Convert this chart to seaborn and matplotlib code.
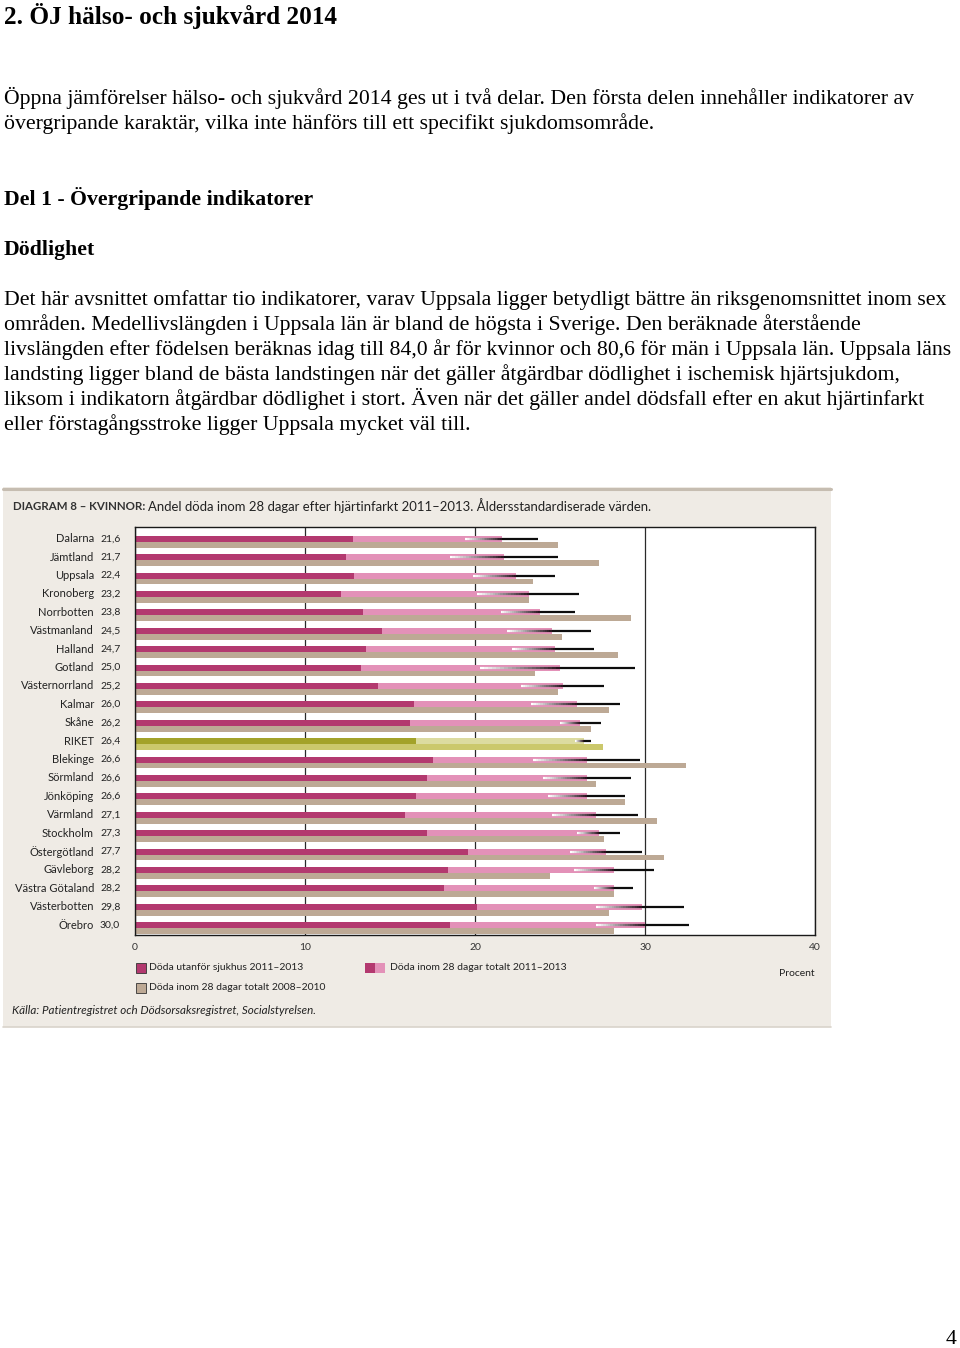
"""Diagram 8 - kvinnor: andel döda inom 28 dagar efter hjärtinfarkt."""
import numpy as np
import pandas as pd
import matplotlib
matplotlib.use('Agg')
import matplotlib.pyplot as plt
import matplotlib.transforms as mtransforms
from matplotlib.patches import Rectangle
from matplotlib.lines import Line2D
from matplotlib.collections import LineCollection
import seaborn as sns

# ----------------------------------------------------------------------------
# data
# ----------------------------------------------------------------------------
regions = ['Dalarna', 'Jämtland', 'Uppsala', 'Kronoberg', 'Norrbotten',
           'Västmanland', 'Halland', 'Gotland', 'Västernorrland', 'Kalmar',
           'Skåne', 'RIKET', 'Blekinge', 'Sörmland', 'Jönköping', 'Värmland',
           'Stockholm', 'Östergötland', 'Gävleborg', 'Västra Götaland',
           'Västerbotten', 'Örebro']
total_1113 = [21.6, 21.7, 22.4, 23.2, 23.8, 24.5, 24.7, 25.0, 25.2, 26.0, 26.2,
              26.4, 26.6, 26.6, 26.6, 27.1, 27.3, 27.7, 28.2, 28.2, 29.8, 30.0]
outside_1113 = [12.8, 12.4, 12.9, 12.1, 13.4, 14.5, 13.6, 13.3, 14.3, 16.4, 16.2,
                16.5, 17.5, 17.2, 16.5, 15.9, 17.2, 19.6, 18.4, 18.2, 20.1, 18.5]
total_0810 = [24.9, 27.3, 23.4, 23.2, 29.2, 25.1, 28.4, 23.5, 24.9, 27.9, 26.8,
              27.5, 32.4, 27.1, 28.8, 30.7, 27.6, 31.1, 24.4, 28.2, 27.9, 28.2]
ci_low = [19.4, 18.5, 19.9, 20.1, 21.5, 21.9, 22.2, 20.3, 22.7, 23.3, 25.0,
          25.9, 23.4, 24.0, 24.3, 24.5, 26.0, 25.6, 25.8, 27.0, 27.1, 27.1]
ci_high = [23.7, 24.9, 24.7, 26.1, 25.9, 26.8, 27.0, 29.4, 27.6, 28.5, 27.4,
           26.8, 29.7, 29.2, 28.8, 29.6, 28.5, 29.8, 30.5, 29.3, 32.3, 32.6]
x_ticks = [0, 10, 20, 30, 40]

period_new = 'Döda inom 28 dagar totalt 2011–2013'
period_old = 'Döda inom 28 dagar totalt 2008–2010'
label_outside = 'Döda utanför sjukhus 2011–2013'

# colours
MAGENTA = '#b3396f'
PINK = '#e391b8'
TAN = '#bda995'
OLIVE_DARK = '#a3a229'
OLIVE_LIGHT = '#dcdba0'
OLIVE_LOW = '#cbc86c'
PANEL = '#efebe5'

sns.set_theme(style='white')
plt.rcParams['font.family'] = ['Lato', 'DejaVu Sans']
SERIF = ['Liberation Serif', 'DejaVu Serif']
BODY = 15.7

W, H = 960, 1348
fig = plt.figure(figsize=(W / 100, H / 100), dpi=100)
fig.patch.set_facecolor('white')


def fx(px):
    return px / W


def fy(py):
    return 1 - py / H


# ----------------------------------------------------------------------------
# page text
# ----------------------------------------------------------------------------
fig.text(fx(4), fy(24), '2. ÖJ hälso- och sjukvård 2014', family=SERIF,
         weight='bold', size=18.2, va='baseline', color='black')

intro = ['Öppna jämförelser hälso- och sjukvård 2014 ges ut i två delar. Den första delen innehåller indikatorer av',
         'övergripande karaktär, vilka inte hänförs till ett specifikt sjukdomsområde.']
for k, line in enumerate(intro):
    fig.text(fx(4), fy(104 + 25 * k), line, family=SERIF, size=BODY,
             va='baseline', color='black')

fig.text(fx(4), fy(205), 'Del 1 - Övergripande indikatorer', family=SERIF,
         weight='bold', size=BODY, va='baseline', color='black')
fig.text(fx(4), fy(255), 'Dödlighet', family=SERIF, weight='bold', size=BODY,
         va='baseline', color='black')

para = ['Det här avsnittet omfattar tio indikatorer, varav Uppsala ligger betydligt bättre än riksgenomsnittet inom sex',
        'områden. Medellivslängden i Uppsala län är bland de högsta i Sverige. Den beräknade återstående',
        'livslängden efter födelsen beräknas idag till 84,0 år för kvinnor och 80,6 för män i Uppsala län. Uppsala läns',
        'landsting ligger bland de bästa landstingen när det gäller åtgärdbar dödlighet i ischemisk hjärtsjukdom,',
        'liksom i indikatorn åtgärdbar dödlighet i stort. Även när det gäller andel dödsfall efter en akut hjärtinfarkt',
        'eller förstagångsstroke ligger Uppsala mycket väl till.']
for k, line in enumerate(para):
    fig.text(fx(4), fy(305 + 25 * k), line, family=SERIF, size=BODY,
             va='baseline', color='black')

fig.text(fx(957), fy(1344), '4', family=SERIF, size=BODY, va='baseline',
         ha='right', color='black')

# ----------------------------------------------------------------------------
# chart panel
# ----------------------------------------------------------------------------
fig.patches.append(Rectangle((fx(3), fy(1027)), 828 / W, 540 / H,
                             transform=fig.transFigure, facecolor=PANEL,
                             edgecolor='none', zorder=-2))
fig.lines.append(Line2D([fx(3), fx(831)], [fy(488.5), fy(488.5)],
                        transform=fig.transFigure, color='#c6bdb1', lw=2.2,
                        zorder=-1))
fig.lines.append(Line2D([fx(3), fx(831)], [fy(1026.5), fy(1026.5)],
                        transform=fig.transFigure, color='#d9d3cb', lw=1.2,
                        zorder=-1))

ax = fig.add_axes([fx(135), fy(935), 680 / W, 408 / H])
ax.set_facecolor('white')
ax.set_zorder(1)

long = pd.DataFrame({'region': regions * 2,
                     'value': total_1113 + total_0810,
                     'period': [period_new] * len(regions) + [period_old] * len(regions)})
outside = pd.DataFrame({'region': regions, 'value': outside_1113,
                        'period': [period_new] * len(regions)})
hue_order = [period_new, period_old]
palette = {period_new: PINK, period_old: TAN}

sns.barplot(data=long, y='region', x='value', hue='period', order=regions,
            hue_order=hue_order, palette=palette, width=0.65, orient='h',
            dodge=True, saturation=1, linewidth=0, errorbar=None,
            legend=False, ax=ax)
n_first = len(ax.patches)
sns.barplot(data=outside, y='region', x='value', hue='period', order=regions,
            hue_order=hue_order, palette={period_new: MAGENTA, period_old: MAGENTA},
            width=0.65, orient='h', dodge=True, saturation=1, linewidth=0,
            errorbar=None, legend=False, ax=ax)

# RIKET in olive
riket = regions.index('RIKET')
for j, p in enumerate(ax.patches):
    yc = p.get_y() + p.get_height() / 2
    if int(round(yc)) != riket:
        continue
    if j >= n_first:
        p.set_facecolor(OLIVE_DARK)
    elif yc < riket:
        p.set_facecolor(OLIVE_LIGHT)
    else:
        p.set_facecolor(OLIVE_LOW)

# confidence intervals: fade from white at the lower limit, black above the value
segs, cols = [], []
white = np.array([1.0, 1.0, 1.0])
dark = np.array([0.16, 0.08, 0.12])
for i, (lo, v, hi) in enumerate(zip(ci_low, total_1113, ci_high)):
    yy = i - 0.1625
    xs = np.linspace(lo, v, 21)
    for k in range(20):
        f = k / 19
        segs.append([(xs[k], yy), (xs[k + 1], yy)])
        cols.append(tuple(white * (1 - f) + dark * f))
    segs.append([(v, yy), (hi, yy)])
    cols.append((0.05, 0.05, 0.05))
ax.add_collection(LineCollection(segs, colors=cols, linewidths=1.6,
                                 capstyle='butt', zorder=5))

ax.set_xlim(0, 40)
ax.set_ylim(21.375, -0.80)
ax.set_yticks([])
ax.set_ylabel('')
ax.set_xlabel('')
ax.set_xticks(x_ticks)
ax.set_xticklabels([str(t) for t in x_ticks])
ax.tick_params(axis='x', length=0, pad=6, labelsize=7.5, labelcolor='#333333')
ax.grid(True, axis='x', color='#2a2a2a', lw=0.9)
ax.set_axisbelow(True)
for s in ax.spines.values():
    s.set_visible(True)
    s.set_color('#1a1a1a')
    s.set_linewidth(1)

# region names and values
trans = mtransforms.blended_transform_factory(ax.transAxes, ax.transData)
for i, (r, v) in enumerate(zip(regions, total_1113)):
    ax.text(-41 / 680, i - 0.16, r, transform=trans, ha='right', va='center',
            size=8, color='#222222')
    ax.text(-35 / 680, i - 0.16, f'{v:.1f}'.replace('.', ','), transform=trans,
            ha='left', va='center', size=7.5, color='#222222')

# chart title
renderer = fig.canvas.get_renderer()
t1 = fig.text(fx(13), fy(506), 'DIAGRAM 8 – KVINNOR:', size=8.3, weight='bold',
              va='center', color='#333333')
bb = t1.get_window_extent(renderer)
fig.text(bb.x1 / W + 3 / W, fy(506),
         'Andel döda inom 28 dagar efter hjärtinfarkt 2011–2013. Åldersstandardiserade värden.',
         size=9.45, va='center', color='#222222')


# legend
def square(x0, y0, color, w=10):
    fig.patches.append(Rectangle((fx(x0), fy(y0 + 10)), w / W, 10 / H,
                                 transform=fig.transFigure, facecolor=color,
                                 edgecolor='#333333', lw=0.6, zorder=3))


square(136, 963, MAGENTA)
fig.text(fx(149), fy(968), label_outside, size=7.5, va='center', color='#222222')
fig.patches.append(Rectangle((fx(365), fy(973)), 10 / W, 10 / H,
                             transform=fig.transFigure, facecolor=MAGENTA,
                             edgecolor='none', zorder=3))
fig.patches.append(Rectangle((fx(375), fy(973)), 10 / W, 10 / H,
                             transform=fig.transFigure, facecolor=PINK,
                             edgecolor='none', zorder=3))
fig.text(fx(390), fy(968), period_new, size=7.5, va='center', color='#222222')
square(136, 983, TAN)
fig.text(fx(149), fy(988), period_old, size=7.5, va='center', color='#222222')
fig.text(fx(815), fy(973), 'Procent', size=7.5, va='center', ha='right',
         color='#222222')
fig.text(fx(12), fy(1010),
         'Källa: Patientregistret och Dödsorsaksregistret, Socialstyrelsen.',
         size=8.4, style='italic', va='center', color='#222222')

fig.savefig('out.png', dpi=100)
